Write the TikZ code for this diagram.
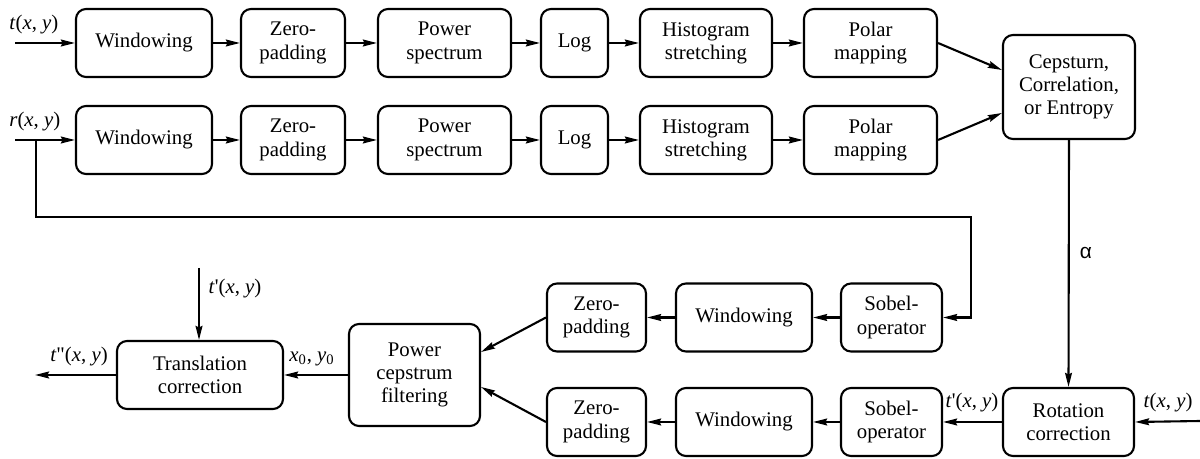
\documentclass[tikz,border=0pt]{standalone}
\usepackage{fontspec}
\newfontfamily\dummyfnt{DejaVu Serif}
\newfontfamily\timesfnt{Liberation Serif}
\newfontfamily\alphafnt{Liberation Sans}
\newcommand\tmz{\timesfnt}
\usetikzlibrary{arrows.meta}
\begin{document}
\begin{tikzpicture}[x=0.5pt,y=-0.5pt,
  box/.style={draw, line width=1.05pt, rounded corners=5pt, align=center, inner sep=0pt,
    minimum height=34pt, font=\fontsize{10.4}{11.6}\selectfont\timesfnt},
  arr/.style={line width=1.05pt, -{Stealth[length=7pt,width=3.4pt,inset=0.8pt]}},
  lbl/.style={inner sep=0pt, font=\fontsize{10.4}{11.6}\selectfont\timesfnt}]
\useasboundingbox (0,0) rectangle (1200,459);
% row 1
\node[box, minimum width=68pt]   (W1) at (144,43)   {\tmz Windowing};
\node[box, minimum width=52pt]   (Z1) at (293,43)   {\tmz Zero-\\\tmz padding};
\node[box, minimum width=66.5pt] (P1) at (444.5,43) {\tmz Power\\\tmz spectrum};
\node[box, minimum width=33.5pt] (L1) at (574.5,43) {\tmz Log};
\node[box, minimum width=66pt]   (H1) at (706,43)   {\tmz Histogram\\\tmz stretching};
\node[box, minimum width=66.5pt] (M1) at (870.5,43) {\tmz Polar\\\tmz mapping};
% row 2
\node[box, minimum width=68pt]   (W2) at (144,140)   {\tmz Windowing};
\node[box, minimum width=52pt]   (Z2) at (293,140)   {\tmz Zero-\\\tmz padding};
\node[box, minimum width=66.5pt] (P2) at (444.5,140) {\tmz Power\\\tmz spectrum};
\node[box, minimum width=33.5pt] (L2) at (574.5,140) {\tmz Log};
\node[box, minimum width=66pt]   (H2) at (706,140)   {\tmz Histogram\\\tmz stretching};
\node[box, minimum width=66.5pt] (M2) at (870.5,140) {\tmz Polar\\\tmz mapping};
% combiner
\node[box, minimum width=66pt, minimum height=52pt] (C) at (1069,87) {\tmz Cepsturn,\\\tmz Correlation,\\\tmz or Entropy};
% lower rows
\node[box, minimum width=50.5pt] (S1) at (891.5,317.5) {\tmz Sobel-\\\tmz operator};
\node[box, minimum width=68pt]   (WA) at (744,317.5)   {\tmz Windowing};
\node[box, minimum width=49.5pt] (ZA) at (596.5,317.5) {\tmz Zero-\\\tmz padding};
\node[box, minimum width=50.5pt] (S2) at (891.5,422)   {\tmz Sobel-\\\tmz operator};
\node[box, minimum width=68pt]   (WB) at (744,422)     {\tmz Windowing};
\node[box, minimum width=49.5pt] (ZB) at (596.5,422)   {\tmz Zero-\\\tmz padding};
\node[box, minimum width=65.5pt] (R)  at (1068.5,422)  {\tmz Rotation\\\tmz correction};
\node[box, minimum width=65.5pt, minimum height=51pt] (PC) at (414.5,375) {\tmz Power\\\tmz cepstrum\\\tmz filtering};
\node[box, minimum width=83pt]   (T)  at (200,375)     {\tmz Translation\\\tmz correction};
% coordinates
\coordinate (tin) at (15,43);
\coordinate (rin) at (15,140);
\coordinate (rb) at (36,140);
\coordinate (turn) at (971,217);
\coordinate (tout) at (35,375);
\coordinate (tpin) at (199,268);
\coordinate (tin2) at (1200,421);
% row connectors
\draw[arr] (tin) -- (W1);
\draw[arr] (W1) -- (Z1);
\draw[arr] (Z1) -- (P1);
\draw[arr] (P1) -- (L1);
\draw[arr] (L1) -- (H1);
\draw[arr] (H1) -- (M1);
\draw[arr] (rin) -- (W2);
\draw[arr] (W2) -- (Z2);
\draw[arr] (Z2) -- (P2);
\draw[arr] (P2) -- (L2);
\draw[arr] (L2) -- (H2);
\draw[arr] (H2) -- (M2);
\draw[arr] (M1.east) -- ([yshift=8.5pt]C.west);
\draw[arr] (M2.east) -- ([yshift=-13pt]C.west);
\draw[arr] (C.south) -- (R.north);
\draw[arr] (rb) |- (turn) |- (S1.east);
\draw[arr] (S1) -- (WA);
\draw[arr] (WA) -- (ZA);
\draw[arr] (tin2) -- (R.east);
\draw[arr] (R) -- (S2);
\draw[arr] (S2) -- (WB);
\draw[arr] (WB) -- (ZB);
\draw[arr] (ZA.west) -- ([yshift=11.5pt]PC.east);
\draw[arr] (ZB.west) -- ([yshift=-6pt]PC.east);
\draw[arr] (PC) -- (T);
\draw[arr] (T.west) -- (tout);
\draw[arr] (tpin) -- (T.north -| tpin);
% labels
\node[lbl, anchor=west] (lt) at (9,25) {\tmz\textit{t}(\textit{x}, \textit{y})};
\node[lbl, anchor=west] (lr) at (9,122) {\tmz\textit{r}(\textit{x}, \textit{y})};
\node[lbl] (la) at (1086,253) {\alphafnt α};
\node[lbl] (ltpp) at (79,357) {\tmz\textit{t}\textquotedbl(\textit{x}, \textit{y})};
\node[lbl] (ltp1) at (235,289) {\tmz\textit{t}\textquotesingle(\textit{x}, \textit{y})};
\node[lbl] (lxy) at (312,359) {\tmz\textit{x}\textsubscript{0}, \textit{y}\textsubscript{0}};
\node[lbl] (ltp2) at (972,403) {\tmz\textit{t}\textquotesingle(\textit{x}, \textit{y})};
\node[lbl] (lt2) at (1168,403) {\tmz\textit{t}(\textit{x}, \textit{y})};
\end{tikzpicture}
\end{document}
